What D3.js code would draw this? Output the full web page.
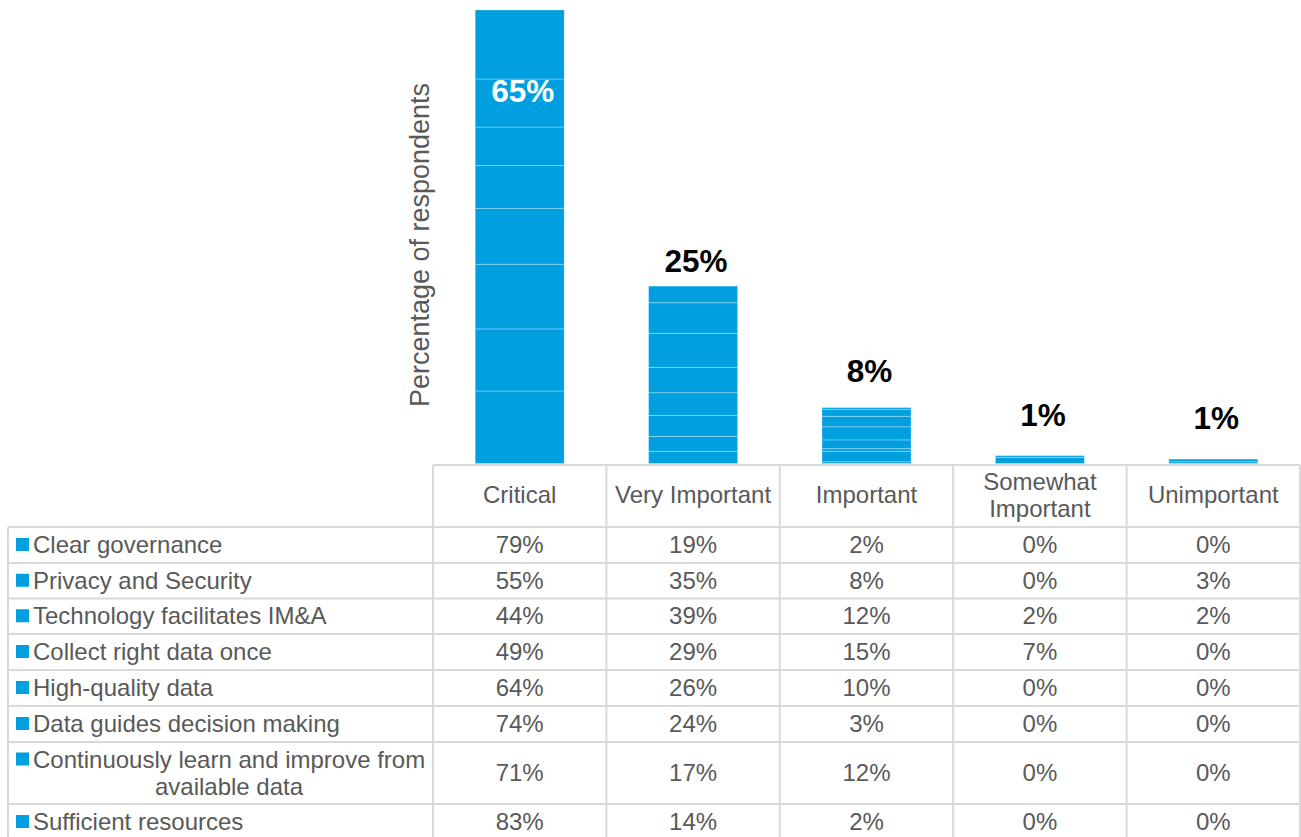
<!DOCTYPE html>
<html>
<head>
<meta charset="utf-8">
<script src="https://cdn.jsdelivr.net/npm/d3@7"></script>
<style>
  html, body { margin: 0; padding: 0; background: #fff; }
  svg { display: block; font-family: "Liberation Sans", Arial, sans-serif; }
</style>
</head>
<body>
<svg id="chart" width="1301" height="837"></svg>
<script>
// Importance ratings (column categories)
const categories = ["Critical", "Very Important", "Important", "Somewhat Important", "Unimportant"];
// Factors (table rows / stacked series)
const seriesNames = [
  "Clear governance",
  "Privacy and Security",
  "Technology facilitates IM&A",
  "Collect right data once",
  "High-quality data",
  "Data guides decision making",
  "Continuously learn and improve from available data",
  "Sufficient resources"
];
// Percent of respondents per factor, in category order
const clearGovernance   = [79, 19, 2, 0, 0];
const privacySecurity   = [55, 35, 8, 0, 3];
const technologyIMA     = [44, 39, 12, 2, 2];
const collectOnce       = [49, 29, 15, 7, 0];
const highQuality       = [64, 26, 10, 0, 0];
const dataGuides        = [74, 24, 3, 0, 0];
const continuousLearn   = [71, 17, 12, 0, 0];
const sufficientRes     = [83, 14, 2, 0, 0];
const seriesValues = [clearGovernance, privacySecurity, technologyIMA, collectOnce,
                      highQuality, dataGuides, continuousLearn, sufficientRes];
// Header lines for the data table
const headerLines = [["Critical"], ["Very Important"], ["Important"], ["Somewhat", "Important"], ["Unimportant"]];
// Wrapped row labels
const rowLabelLines = [
  ["Clear governance"], ["Privacy and Security"], ["Technology facilitates IM&A"],
  ["Collect right data once"], ["High-quality data"], ["Data guides decision making"],
  ["Continuously learn and improve from", "available data"], ["Sufficient resources"]
];

const BLUE = "#009FDF";
const GREY_TEXT = "#595959";
const GRID = "#D9D9D9";
const nSeries = seriesNames.length;

const svg = d3.select("#chart");

// Layout
const tableLeft = 8, colStart = 433, tableRight = 1300;
const plotBottom = 464;
const headerBottom = 527;
const rowHeights = [36, 35.5, 35.5, 36, 36, 36, 62, 36];

// Scales
const x = d3.scaleBand().domain(categories).range([colStart, tableRight]).paddingInner(0).paddingOuter(0);
const y = d3.scaleLinear().domain([0, 66.3]).range([plotBottom - 0.5, 0]);
// Label baseline follows a slightly flatter scale above the bars
const labelY = d3.scaleLinear().domain([0, 25]).range([433, 274.8]);

// Each factor contributes an equal share (value / number of factors) to the stack
const stackRows = categories.map((c, ci) => {
  const row = { category: c };
  seriesNames.forEach((s, si) => { row[s] = seriesValues[si][ci] / nSeries; });
  return row;
});
// Last table row sits at the bottom of the stack
const stack = d3.stack().keys(seriesNames.slice().reverse());
const layers = stack(stackRows);

const barW = 89;
const g = svg.append("g");
layers.forEach(layer => {
  g.selectAll(null).data(layer).join("rect")
    .attr("x", d => x(d.data.category) + x.bandwidth() / 2 - barW / 2)
    .attr("width", barW)
    .attr("y", d => y(d[1]))
    .attr("height", d => Math.max(0, y(d[0]) - y(d[1])))
    .attr("fill", BLUE)
    .attr("stroke", "rgba(255,255,255,0.28)")
    .attr("stroke-width", 1);
});

// Totals
const totals = stackRows.map(r => d3.sum(seriesNames, s => r[s]));
svg.append("g").selectAll("text").data(categories).join("text")
  .attr("x", c => x(c) + x.bandwidth() / 2 + 3)
  .attr("y", (c, i) => {
    const t = totals[i];
    return labelY(t) > 40 ? labelY(t) : y(t) + 92;
  })
  .attr("text-anchor", "middle")
  .attr("font-size", 31.5)
  .attr("font-weight", "bold")
  .attr("fill", (c, i) => labelY(totals[i]) > 40 ? "#000" : "#fff")
  .text((c, i) => Math.round(totals[i]) + "%");

// Axis title
svg.append("text")
  .attr("transform", `translate(429,245) rotate(-90)`)
  .attr("text-anchor", "middle")
  .attr("font-size", 27)
  .attr("fill", GREY_TEXT)
  .text("Percentage of respondents");

// Data table
const rowTops = [headerBottom];
rowHeights.forEach((h, i) => rowTops.push(rowTops[i] + h));
const tbl = svg.append("g").attr("stroke", GRID).attr("stroke-width", 2).attr("fill", "none");
// header top line and column lines
tbl.append("line").attr("x1", colStart).attr("x2", tableRight).attr("y1", 465).attr("y2", 465);
categories.forEach(c => {
  tbl.append("line").attr("x1", x(c)).attr("x2", x(c)).attr("y1", 465).attr("y2", 837);
});
tbl.append("line").attr("x1", tableRight).attr("x2", tableRight).attr("y1", 465).attr("y2", 837);
tbl.append("line").attr("x1", tableLeft).attr("x2", tableLeft).attr("y1", headerBottom).attr("y2", 837);
rowTops.forEach(t => {
  if (t < 837) tbl.append("line").attr("x1", tableLeft).attr("x2", tableRight).attr("y1", t).attr("y2", t);
});

const fs = 24;
// Header texts
categories.forEach((c, ci) => {
  const lines = headerLines[ci];
  const cy = (465 + headerBottom) / 2 - 1;
  const lh = 27;
  lines.forEach((ln, li) => {
    svg.append("text")
      .attr("x", x(c) + x.bandwidth() / 2)
      .attr("y", cy + (li - (lines.length - 1) / 2) * lh + 8)
      .attr("text-anchor", "middle")
      .attr("font-size", fs)
      .attr("fill", GREY_TEXT)
      .text(ln);
  });
});

// Rows
seriesNames.forEach((s, si) => {
  const top = rowTops[si], h = rowHeights[si];
  const cy = top + h / 2;
  const lines = rowLabelLines[si];
  const lh = 27;
  const firstY = cy - (lines.length - 1) / 2 * lh;
  svg.append("rect")
    .attr("x", 16).attr("y", firstY - 7).attr("width", 13).attr("height", 13)
    .attr("fill", BLUE);
  lines.forEach((ln, li) => {
    svg.append("text")
      .attr("x", li === 0 ? 33 : 229)
      .attr("y", firstY + li * lh + 8)
      .attr("text-anchor", li === 0 ? "start" : "middle")
      .attr("font-size", fs)
      .attr("fill", GREY_TEXT)
      .text(ln);
  });
  categories.forEach((c, ci) => {
    svg.append("text")
      .attr("x", x(c) + x.bandwidth() / 2)
      .attr("y", cy + 8)
      .attr("text-anchor", "middle")
      .attr("font-size", fs)
      .attr("fill", GREY_TEXT)
      .text(seriesValues[si][ci] + "%");
  });
});
</script>
</body>
</html>
